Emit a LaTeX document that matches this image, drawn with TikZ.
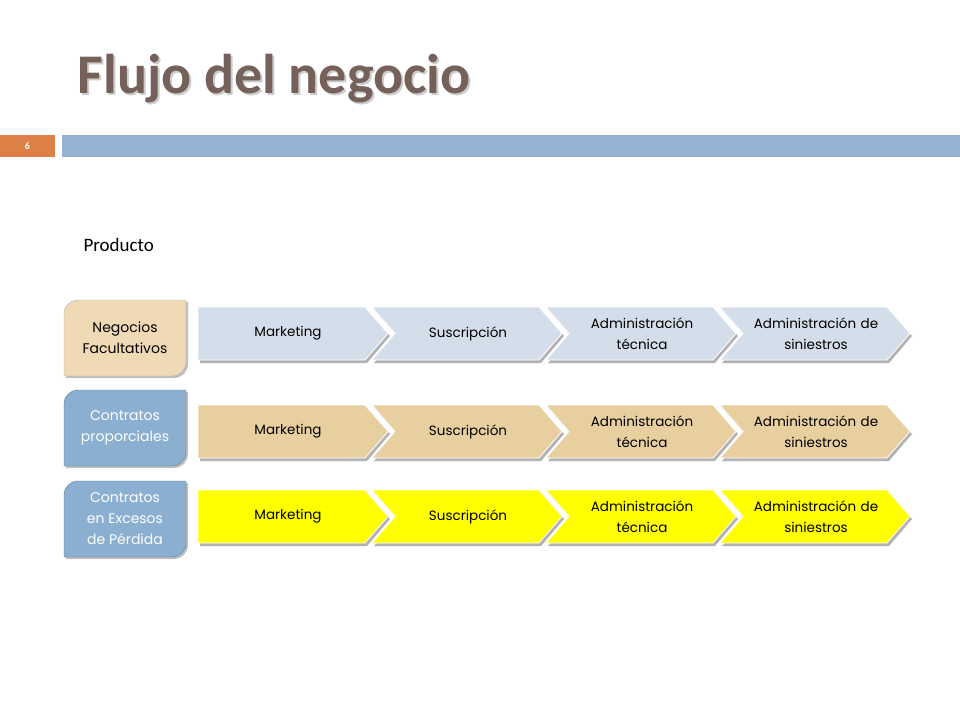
\documentclass[tikz,border=0pt]{standalone}
\usepackage{fontspec}
\setmainfont{Carlito}
\newfontfamily\gothic{Poppins}
\usetikzlibrary{positioning}
\definecolor{titlebrown}{HTML}{75605A}
\definecolor{barblue}{HTML}{94B3D4}
\definecolor{numorange}{HTML}{DD8047}
\definecolor{rowblue}{HTML}{D3DEEA}
\definecolor{rowsand}{HTML}{E8CFA0}
\definecolor{rowyellow}{HTML}{FFFF00}
\definecolor{boxblue}{HTML}{8AAFD0}
\definecolor{boxsand}{HTML}{F0D9B5}
\tikzset{
  steptext/.style={font=\gothic\fontsize{13.5}{21}\selectfont, align=center, text width=150pt},
  boxtext/.style={font=\gothic\fontsize{14}{21}\selectfont, align=center}
}
\begin{document}
\begin{tikzpicture}[x=1pt,y=-1pt]
\useasboundingbox (0,0) rectangle (960,720);
% title and bar
\node[anchor=west, font=\bfseries\fontsize{56}{60}\selectfont, text=black!20] at (76,81) {Flujo del negocio};
\node[anchor=west, font=\bfseries\fontsize{56}{60}\selectfont, text=titlebrown] (title) at (74,79) {Flujo del negocio};
\fill[numorange] (0,135) rectangle (55,157);
\node[text=white, font=\bfseries\fontsize{10}{11}\selectfont] (num) at (27.5,146) {6};
\fill[barblue] (62,135) rectangle (960,157);
\node[anchor=west, font=\fontsize{19}{22}\selectfont] (prod) at (80,245) {Producto};
% left boxes
\foreach \y/\fc/\dc/\tc/\txt/\nm in {300/boxsand/black!30/black/{Negocios\\Facultativos}/neg,
    390/boxblue/boxblue!70!black/white/{Contratos\\proporciales}/prop,
    481/boxblue/boxblue!70!black/white/{Contratos\\en Excesos\\de Pérdida}/exc}{
  \fill[black!25] (66,\y+78) [rounded corners=14] -- (66,\y+2) [sharp corners] -- (188,\y+2) [rounded corners=14] -- (188,\y+78) [sharp corners] -- cycle;
  \filldraw[fill=\fc, draw=\dc] (64,\y+76) [rounded corners=14] -- (64,\y) [sharp corners] -- (186,\y) [rounded corners=14] -- (186,\y+76) [sharp corners] -- cycle;
  \node[boxtext, text=\tc] (\nm) at (125,\y+38) {\txt};
}
% process rows
\foreach \y/\fc/\r in {307/rowblue/a, 405/rowsand/b, 490/rowyellow/c}{
  \foreach \x/\txt/\k in {198/Marketing/1, 372/Suscripción/2, 546/{Administración\\técnica}/3, 720/{Administración de\\siniestros}/4}{
    \ifnum\k=1
      \fill[black!30] (\x+2,\y+3) -- (\x+169,\y+3) -- (\x+192,\y+29) -- (\x+169,\y+56) -- (\x+2,\y+56) -- cycle;
      \filldraw[fill=\fc, draw=white, line width=0.8pt] (\x,\y) -- (\x+167,\y) -- (\x+190,\y+26.5) -- (\x+167,\y+53) -- (\x,\y+53) -- cycle;
    \else
      \fill[black!30] (\x+2,\y+3) -- (\x+169,\y+3) -- (\x+192,\y+29) -- (\x+169,\y+56) -- (\x+2,\y+56) -- (\x+25,\y+29) -- cycle;
      \filldraw[fill=\fc, draw=white, line width=0.8pt] (\x,\y) -- (\x+167,\y) -- (\x+190,\y+26.5) -- (\x+167,\y+53) -- (\x,\y+53) -- (\x+23,\y+26.5) -- cycle;
    \fi
    \node[steptext] (\r\k) at (\x+\ifnum\k=1 90\else 96\fi,\y+26.5) {\txt};
  }
}
\end{tikzpicture}
\end{document}
